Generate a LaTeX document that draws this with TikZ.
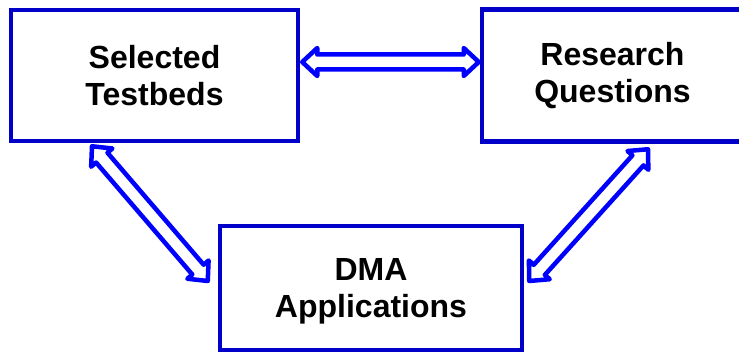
\documentclass[tikz,border=0pt]{standalone}
\usepackage{fontspec}
\setmainfont{Liberation Sans}
\usetikzlibrary{calc,backgrounds}
\definecolor{boxblue}{RGB}{0,0,200}
\definecolor{arrowblue}{RGB}{0,0,255}
\tikzset{
  box/.style={draw=boxblue,line width=4.5pt,rectangle,align=center,
    font=\fontsize{32}{37}\selectfont\bfseries},
  link/.style={draw=arrowblue,fill=white,line width=4.5pt,line join=round}
}
% hollow double-headed block arrow between two points
\newcommand{\dblarrow}[2]{%
  \draw[link] (#1)
    -- ($(#1)!15pt!(#2)!14pt!90:(#2)$)
    -- ($(#1)!15pt!(#2)!7.5pt!90:(#2)$)
    -- ($(#2)!15pt!(#1)!7.5pt!-90:(#1)$)
    -- ($(#2)!15pt!(#1)!14pt!-90:(#1)$)
    -- (#2)
    -- ($(#2)!15pt!(#1)!14pt!90:(#1)$)
    -- ($(#2)!15pt!(#1)!7.5pt!90:(#1)$)
    -- ($(#1)!15pt!(#2)!7.5pt!-90:(#2)$)
    -- ($(#1)!15pt!(#2)!14pt!-90:(#2)$)
    -- cycle;}
\begin{document}
\begin{tikzpicture}[x=1pt,y=1pt]
    \useasboundingbox (0,0) rectangle (739,352);
    \node[box,minimum width=287pt,minimum height=131pt] (sel) at (154.5,276.5) {Selected\\Testbeds};
    \node[box,minimum width=261pt,minimum height=132pt] (res) at (612.5,276.5) {Research\\Questions};
    \node[box,minimum width=302pt,minimum height=124pt] (dma) at (371,64) {DMA\\\smash{Applications}};
    \coordinate (sel-r) at ([xshift=2pt,yshift=13.5pt]sel.east);
    \coordinate (res-l) at ([xshift=-1pt,yshift=13.5pt]res.west);
    \coordinate (sel-b) at ([xshift=-62.5pt,yshift=-3pt]sel.south);
    \coordinate (dma-l) at ([xshift=-10pt,yshift=7pt]dma.west);
    \coordinate (dma-r) at ([xshift=5pt,yshift=7pt]dma.east);
    \coordinate (res-b) at ([xshift=35.5pt,yshift=-5.5pt]res.south);
    \begin{pgfonlayer}{background}
    \dblarrow{sel-r}{res-l}
    \dblarrow{sel-b}{dma-l}
    \dblarrow{dma-r}{res-b}
    \end{pgfonlayer}
\end{tikzpicture}
\end{document}
